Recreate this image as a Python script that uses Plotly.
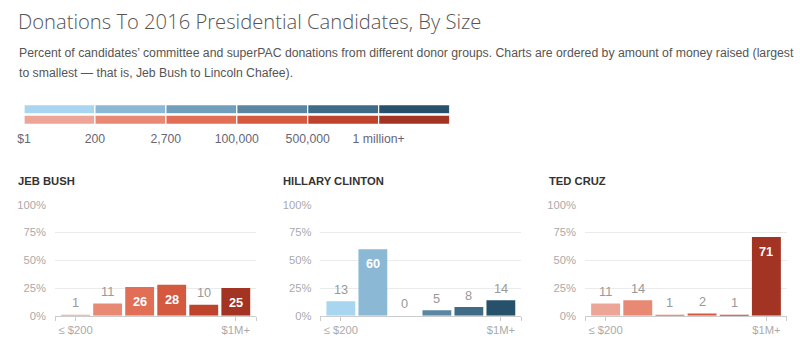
import plotly.graph_objects as go

W, H = 800, 357

# ---- data ----
scale_labels = ["$1", "200", "2,700", "100,000", "500,000", "1 million+"]
blues = ["#a8d5f0", "#8ab8d5", "#6f9fba", "#5a86a2", "#406b87", "#27506b"]
reds = ["#eda597", "#e88a73", "#e06f55", "#d35a3f", "#bd432c", "#a33322"]

candidates = ["JEB BUSH", "HILLARY CLINTON", "TED CRUZ"]
bush = [1, 11, 26, 28, 10, 25]
clinton = [13, 60, 0, 5, 8, 14]
cruz = [11, 14, 1, 2, 1, 71]
party_colors = [reds, blues, reds]
values = [bush, clinton, cruz]
groups = [0, 1, 2, 3, 4, 5]
y_ticks = [0, 25, 50, 75, 100]
y_ticktext = ["0%", "25%", "50%", "75%", "100%"]
x_ticktext = ["", "≤ $200", "$1M+", ""]
inside_threshold = 20

FONT = "Liberation Sans"

# page capture maps layout pixels slightly (offset + shrink); compensate
SX, OX = 0.99, 7.0
SY, OY = 0.972, 4.4
FS = 1.02


def lx(x):
    return (x - OX) / SX


def ly(y):
    return (y - OY) / SY


def px(x, d=0.0):
    return (lx(x) + d) / W


def py(y):
    return 1 - ly(y) / H


fig = go.Figure()

# ---- colour-scale key (top) ----
for row, pal in (("red", reds), ("blue", blues)):
    fig.add_trace(go.Bar(
        orientation="h", y=[row] * 6, x=[1] * 6, base=groups,
        marker=dict(color=pal, line=dict(color="white", width=1.2)),
        width=0.88, xaxis="x4", yaxis="y4", hoverinfo="skip", showlegend=False,
    ))

fig.update_layout(
    xaxis4=dict(domain=[px(24), px(449)], range=[0, 6], anchor="y4",
                tickvals=list(range(6)), ticktext=scale_labels,
                showgrid=False, zeroline=False, showline=False,
                ticks="outside", ticklen=2, tickcolor="rgba(0,0,0,0)",
                tickfont=dict(family=FONT, size=12 * FS, color="#666677")),
    yaxis4=dict(domain=[py(124), py(103)], range=[-0.5, 1.5], anchor="x4",
                type="category", categoryorder="array", categoryarray=["red", "blue"],
                visible=False),
)

# ---- panels ----
x_domains = [(55, 256), (320, 520.7), (584.3, 786)]
title_x = [18, 283.3, 548.3]
pad = 0.14
annotations = []
for i, (name, vals, pal) in enumerate(zip(candidates, values, party_colors)):
    xa = "x" if i == 0 else f"x{i+1}"
    ya = "y" if i == 0 else f"y{i+1}"
    fig.add_trace(go.Bar(
        x=groups, y=vals, marker=dict(color=pal, line=dict(width=0)),
        width=0.9, xaxis=xa, yaxis=ya, hoverinfo="skip", showlegend=False,
    ))
    lo, hi = -0.5 - pad, 5.5 + pad
    fig.layout[("xaxis" if i == 0 else f"xaxis{i+1}")] = dict(
        domain=[px(x_domains[i][0]), px(x_domains[i][1])], range=[lo, hi],
        anchor=ya, tickvals=[lo, 0, 5, hi], ticktext=x_ticktext,
        showline=True, linecolor="#cccccc", linewidth=1,
        ticks="outside", ticklen=4, tickcolor="#cccccc", showgrid=False,
        zeroline=False, tickfont=dict(family=FONT, size=11 * FS, color="#aaaaaa"),
    )
    fig.layout[("yaxis" if i == 0 else f"yaxis{i+1}")] = dict(
        domain=[py(316), py(204.3)], range=[0, 100], anchor=xa,
        tickvals=y_ticks, ticktext=y_ticktext, showgrid=True,
        gridcolor="#ebebeb", gridwidth=1, zeroline=False, showline=False,
        ticks="", ticklabelstandoff=8,
        tickfont=dict(family=FONT, size=11 * FS, color="#aaaaaa"),
    )
    annotations.append(dict(
        xref="paper", yref="paper", x=px(title_x[i], -2.2), y=py(180),
        xanchor="left", yanchor="middle", showarrow=False,
        text=f"<b>{name}</b>", font=dict(family=FONT, size=11 * FS, color="#333333"),
    ))
    for g, v in zip(groups, vals):
        if v >= inside_threshold:
            annotations.append(dict(
                xref=xa, yref=ya, x=g, y=v, yshift=-14 / SY, yanchor="middle",
                showarrow=False, text=f"<b>{v}</b>",
                font=dict(family=FONT, size=12.5 * FS, color="white"),
            ))
        else:
            annotations.append(dict(
                xref=xa, yref=ya, x=g, y=v, yshift=11.5 / SY, yanchor="middle",
                showarrow=False, text=f"{v}",
                font=dict(family=FONT, size=12.5 * FS, color="#999999"),
            ))

# ---- headings ----
annotations += [
    dict(xref="paper", yref="paper", x=px(18, -2.5), y=py(19), xanchor="left", yanchor="middle",
         showarrow=False, text="Donations To 2016 Presidential Candidates, By Size",
         font=dict(family="Open Sans", size=19.8 * FS, color="#555555", weight=300)),
    dict(xref="paper", yref="paper", x=px(18, -1.2), y=py(52), xanchor="left", yanchor="middle",
         showarrow=False,
         text="Percent of candidates’ committee and superPAC donations from different donor groups. Charts are ordered by amount of money raised (largest",
         font=dict(family=FONT, size=12.0 * FS, color="#555555")),
    dict(xref="paper", yref="paper", x=px(18, -1.2), y=py(72), xanchor="left", yanchor="middle",
         showarrow=False, text="to smallest — that is, Jeb Bush to Lincoln Chafee).",
         font=dict(family=FONT, size=12.0 * FS, color="#555555")),
]

fig.update_layout(
    width=W, height=H, margin=dict(l=0, r=0, t=0, b=0),
    paper_bgcolor="white", plot_bgcolor="white", barmode="overlay",
    annotations=annotations, showlegend=False,
)

fig.write_html(
    "out.html", config={"displayModeBar": False},
    post_script="document.body.style.margin='0';document.body.style.overflow='hidden';",
)
